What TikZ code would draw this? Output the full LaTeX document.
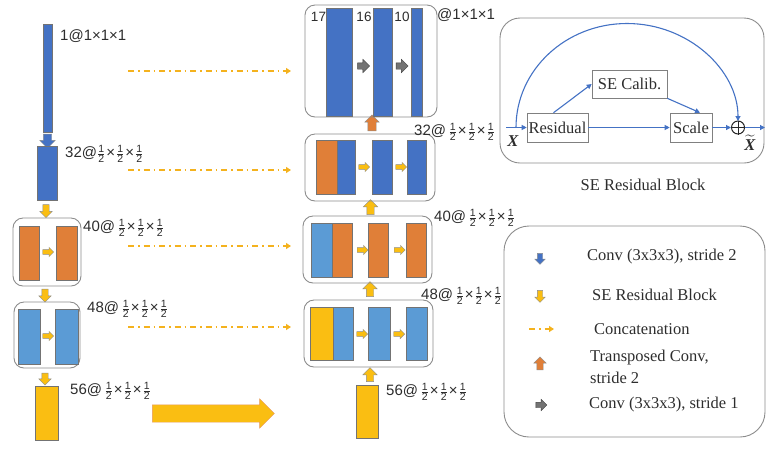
\documentclass[tikz,border=0pt]{standalone}
\usepackage{amsmath}
\usepackage{fontspec}
\setmainfont{Liberation Serif}
\setsansfont{Liberation Sans}
\usepackage{tikz}
\usetikzlibrary{shapes.arrows}
\usetikzlibrary{arrows.meta}
\usepackage{xcolor}

\definecolor{dblue}{RGB}{68,114,196}
\definecolor{lblue}{RGB}{91,155,213}
\definecolor{orng}{RGB}{224,127,56}
\definecolor{ylw}{RGB}{250,190,18}
\definecolor{catc}{RGB}{244,178,30}
\definecolor{txt}{RGB}{45,45,45}

\newcommand{\hf}{\ensuremath{\frac{\mbox{\fontsize{10.5}{10.5}\selectfont 1}}{\mbox{\fontsize{10.5}{10.5}\selectfont 2}}}}
\newcommand{\tm}{\kern1pt×\kern1pt}
\newcommand{\lblfont}{\sffamily\fontsize{15}{17}\selectfont}
\newcommand{\rmfont}{\rmfamily\fontsize{16.5}{22}\selectfont}

\tikzset{
  bar/.style={draw=black!55,line width=.4pt,inner sep=0pt,anchor=north west},
  hold/.style={draw=black!45,line width=.9pt,rounded corners=10pt},
  sarr/.style={single arrow,draw=black!45,line width=.4pt,inner sep=3pt,
    single arrow head extend=3pt,minimum height=13pt,minimum width=0pt},
  tiny/.style={sarr,fill=ylw,inner sep=2.2pt,single arrow head extend=2.3pt,minimum height=11pt},
  down/.style={shape border rotate=270},
  up/.style={shape border rotate=90},
  dimlbl/.style={font=\lblfont,text=txt,anchor=west,inner sep=0pt},
  cat/.style={draw=catc,line width=1.5pt,dash pattern=on 6pt off 4pt on 1.5pt off 4pt,
    -{Triangle[length=5pt,width=6pt]}},
  sebox/.style={draw=black!50,line width=.6pt,font=\rmfont,text=txt,inner sep=1pt},
  seflow/.style={draw=dblue,line width=1.1pt,-{Triangle[length=5pt,width=5pt]}},
  legtxt/.style={font=\rmfont,text=txt,anchor=west,inner sep=0pt,align=left}
}

\begin{document}
\begin{tikzpicture}[x=1pt,y=-1pt]
\useasboundingbox (0,0) rectangle (778,451);

% encoder
\node[bar,fill=dblue,minimum width=9pt,minimum height=108pt] (inp) at (43,24) {};
\node[dimlbl] (linp) at (60,36) {1@1×1×1};
\node[sarr,down,fill=dblue,inner sep=4pt,single arrow head extend=3.5pt,minimum height=14pt] (cv1) at (47.5,139) {};
\node[bar,fill=dblue,minimum width=20pt,minimum height=54pt] (e32) at (37,146) {};
\node[dimlbl] (l32) at (65,154) {32@\hf\tm\hf\tm\hf};
\node[sarr,down,fill=ylw] (se1) at (46,209.5) {};

\draw[hold] (13,218) rectangle (81,286);
\node[bar,fill=orng,minimum width=20pt,minimum height=54pt] (e40a) at (19,226) {};
\node[bar,fill=orng,minimum width=21pt,minimum height=54pt] (e40b) at (56,226) {};
\node[tiny] (r40) at (47,252) {};
\node[dimlbl] (l40) at (83,228) {40@\,\hf\tm\hf\tm\hf};
\node[sarr,down,fill=ylw] (se2) at (45,294) {};

\draw[hold] (14,302) rectangle (80,368);
\node[bar,fill=lblue,minimum width=22pt,minimum height=55pt] (e48a) at (18,309) {};
\node[bar,fill=lblue,minimum width=23pt,minimum height=55pt] (e48b) at (55,309) {};
\node[tiny] (r48) at (47,336) {};
\node[dimlbl] (l48) at (87,309) {48@\,\hf\tm\hf\tm\hf};
\node[sarr,down,fill=ylw,minimum height=12pt] (se3) at (45,377.5) {};

\node[bar,fill=ylw,minimum width=23pt,minimum height=54pt] (e56) at (35,386) {};
\node[dimlbl] (l56) at (70,391) {56@\,\hf\tm\hf\tm\hf};
\node[sarr,fill=ylw,draw=orng!80,inner sep=8.5pt,single arrow head extend=6pt,minimum height=122pt] (big) at (209,413.5) {};

% skip connections
\foreach \i/\yy in {1/71,2/170,3/246,4/327}{
  \coordinate (cs\i) at (128,\yy);
  \coordinate (ce\i) at (291,\yy);
  \draw[cat] (cs\i) -- (ce\i);
}

% decoder
\node[bar,fill=ylw,minimum width=22pt,minimum height=53pt] (d56) at (356,385) {};
\node[dimlbl] (m56) at (386,392) {56@\,\hf\tm\hf\tm\hf};
\node[sarr,up,fill=ylw,inner sep=3.5pt,single arrow head extend=3.5pt,minimum height=14pt] (u48) at (370,376.5) {};

\draw[hold] (304,300) rectangle (433,367);
\node[bar,fill=ylw,minimum width=23pt,minimum height=53pt] (d48a) at (310,307) {};
\node[bar,fill=lblue,minimum width=20pt,minimum height=53pt] (d48b) at (333,307) {};
\node[bar,fill=lblue,minimum width=22pt,minimum height=53pt] (d48c) at (368,307) {};
\node[bar,fill=lblue,minimum width=21pt,minimum height=53pt] (d48d) at (406,307) {};
\node[tiny] (q48a) at (361,334) {};
\node[tiny] (q48b) at (398,334) {};
\node[dimlbl] (m48) at (421,296) {48@\,\hf\tm\hf\tm\hf};
\node[sarr,up,fill=ylw,inner sep=3.5pt,single arrow head extend=3.5pt,minimum height=15pt] (u40) at (370,291) {};

\draw[hold] (303,216) rectangle (432,283);
\node[bar,fill=lblue,minimum width=21pt,minimum height=54pt] (d40a) at (311,223) {};
\node[bar,fill=orng,minimum width=20pt,minimum height=54pt] (d40b) at (332,223) {};
\node[bar,fill=orng,minimum width=20pt,minimum height=54pt] (d40c) at (368,223) {};
\node[bar,fill=orng,minimum width=20pt,minimum height=54pt] (d40d) at (406,223) {};
\node[tiny] (q40a) at (361.5,250) {};
\node[tiny] (q40b) at (398.5,250) {};
\node[dimlbl] (m40) at (434,218) {40@\,\hf\tm\hf\tm\hf};
\node[sarr,up,fill=ylw,inner sep=3.5pt,single arrow head extend=3.5pt,minimum height=15pt] (u32) at (370.5,209) {};

\draw[hold] (305,134) rectangle (435,201);
\node[bar,fill=orng,minimum width=21pt,minimum height=54pt] (d32a) at (316,140) {};
\node[bar,fill=dblue,minimum width=18pt,minimum height=54pt] (d32b) at (337,140) {};
\node[bar,fill=dblue,minimum width=20pt,minimum height=54pt] (d32c) at (372,140) {};
\node[bar,fill=dblue,minimum width=19pt,minimum height=54pt] (d32d) at (407,140) {};
\node[tiny] (q32a) at (363,167) {};
\node[tiny] (q32b) at (400,167) {};
\node[dimlbl] (m32) at (414,132) {32@\,\hf\tm\hf\tm\hf};
\node[sarr,up,fill=orng,inner sep=4pt,single arrow head extend=3pt,minimum height=16pt] (u1) at (372,125) {};

\draw[hold] (305,5) rectangle (437,117);
\node[bar,fill=dblue,minimum width=26pt,minimum height=108pt] (d1a) at (326,8) {};
\node[bar,fill=dblue,minimum width=19pt,minimum height=108pt] (d1b) at (373,8) {};
\node[bar,fill=dblue,minimum width=11pt,minimum height=108pt] (d1c) at (411,8) {};
\node[dimlbl,font=\sffamily\fontsize{13.5}{15}\selectfont,anchor=center] (n17) at (318.5,17) {17};
\node[dimlbl,font=\sffamily\fontsize{13.5}{15}\selectfont,anchor=center] (n16) at (364,17) {16};
\node[dimlbl,font=\sffamily\fontsize{13.5}{15}\selectfont,anchor=center] (n10) at (402,17) {10};
\node[sarr,fill=black!55,draw=black!75,inner sep=3pt,single arrow head extend=3.5pt,minimum height=12pt] (g1) at (362,66) {};
\node[sarr,fill=black!55,draw=black!75,inner sep=3pt,single arrow head extend=3.5pt,minimum height=12pt] (g2) at (400.5,66) {};
\node[dimlbl] (m1) at (437,15) {@1×1×1};

% SE residual block
\draw[hold,rounded corners=20pt] (500,18) rectangle (764,163);
\node[sebox,minimum width=61pt,minimum height=29pt] (res) at (557.5,127.5) {Residual};
\node[sebox,minimum width=75pt,minimum height=28pt] (cal) at (629.5,84) {SE Calib.};
\node[sebox,minimum width=42pt,minimum height=29pt] (scl) at (691,127.5) {Scale};
\node[circle,draw=black!85,line width=1pt,minimum size=13pt,inner sep=0pt] (add) at (738,127.5) {};
\draw[black!85,line width=1pt] (add.north) -- (add.south) (add.west) -- (add.east);
\coordinate (xin) at (506,127.5);
\coordinate (skip) at (516,127.5);
\coordinate (xout) at (765,127.5);
\node[text=txt,font=\rmfont] (xl) at (513,141) {\textbf{\textit{X}}};
\node[text=txt,font=\rmfont] (xt) at (750,143) {$\widetilde{\mbox{\textbf{\textit{X}}}}$};
\draw[seflow] (xin) -- (res);
\draw[seflow] (res) -- (scl);
\draw[seflow] ([xshift=-4pt]res.north) -- (cal.west);
\draw[seflow] (cal.south east) -- ([xshift=9pt]scl.north);
\draw[seflow] (scl) -- (add);
\draw[seflow] (add) -- (xout);
\draw[seflow,shorten >=6.5pt] (skip) arc[start angle=180,end angle=360,x radius=111,y radius=104];
\node[font=\rmfont,text=txt] (secap) at (643,185) {SE Residual Block};

% legend
\draw[hold,rounded corners=25pt] (504,226) rectangle (765,437);
\node[sarr,down,fill=dblue,inner sep=2.5pt,single arrow head extend=2.5pt,minimum height=11pt] (k1) at (540,257.5) {};
\node[legtxt] (t1) at (587,257) {Conv (3x3x3), stride 2};
\node[sarr,down,fill=ylw,inner sep=2.5pt,single arrow head extend=2.5pt,minimum height=12pt] (k2) at (540,295) {};
\node[legtxt] (t2) at (592,295) {SE Residual Block};
\coordinate (k3a) at (529,329);
\coordinate (k3b) at (554,329);
\draw[cat,line width=1.2pt] (k3a) -- (k3b);
\node[legtxt] (t3) at (594,329) {Concatenation};
\node[sarr,up,fill=orng,inner sep=3pt,single arrow head extend=3pt,minimum height=13pt] (k4) at (540,365) {};
\node[legtxt] (t4) at (590,367) {Transposed Conv,\\stride 2};
\node[sarr,fill=black!55,draw=black!75,inner sep=2.5pt,single arrow head extend=3pt,minimum height=11pt] (k5) at (540,405) {};
\node[legtxt] (t5) at (589,405) {Conv (3x3x3), stride 1};
\end{tikzpicture}
\end{document}
